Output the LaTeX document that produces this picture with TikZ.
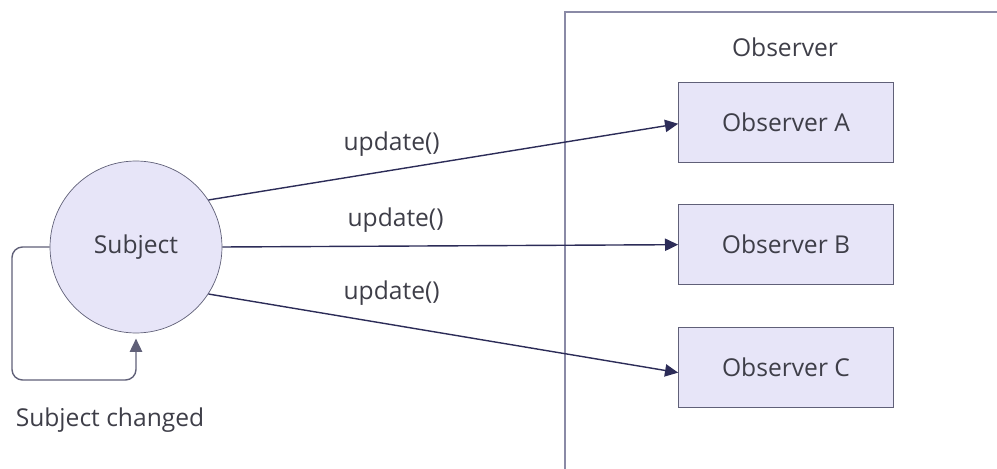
\documentclass[tikz,border=0pt]{standalone}
\usepackage{fontspec}
\setmainfont{Open Sans}
\usepackage{tikz}
\usetikzlibrary{shapes.geometric, arrows.meta, positioning}
\definecolor{obsfill}{HTML}{E7E5F8}
\definecolor{obsline}{HTML}{606078}
\definecolor{framecol}{HTML}{8A8AA6}
\definecolor{arrowcol}{HTML}{2C2C58}
\definecolor{textcol}{HTML}{3E3E48}
\tikzstyle{subject} = [circle, 
minimum size=3.44cm, 
draw=obsline, 
fill=obsfill, 
text=textcol]
\tikzstyle{observer} = [rectangle, 
minimum width=4.3cm, 
minimum height=1.6cm, 
text centered, 
draw=obsline, 
fill=obsfill, 
text=textcol]
\tikzstyle{label} = [text=textcol]
\tikzstyle{arrow} = [draw=arrowcol, line width=0.8pt, 
-{Triangle[length=7.5pt, width=7pt]}]

\begin{document}
\begin{tikzpicture}[x=0.02cm, y=-0.02cm, font=\fontsize{14}{17}\selectfont]
\useasboundingbox (0,0) rectangle (997,469);

% observer frame
\draw[framecol, line width=0.8pt] (565,475) -- (565,12) -- (1005,12);
\node (title) [label] at (785,47) {Observer};

\node (subj) [subject] at (136,247) {Subject};
\node (obsA) [observer] at (786,122) {Observer A};
\node (obsB) [observer, below=0.84cm of obsA] {Observer B};
\node (obsC) [observer, below=0.84cm of obsB] {Observer C};

\draw [arrow] (subj.33) -- node[label, pos=0.39, above=4pt] {update()} ([yshift=-1pt]obsA.west);
\draw [arrow] (subj.east) -- node[label, pos=0.38, above=4pt] {update()} (obsB.west);
\draw [arrow] (subj.-33) -- node[label, pos=0.39, above=7pt] {update()} ([yshift=-3pt]obsC.west);

% self loop
\coordinate (loopend) at ([yshift=-3pt]subj.south);
\draw [arrow, draw=obsline, rounded corners=6pt] (subj.west) -| (12,380) -| (loopend);
\node (changed) [label] at (110,420) {Subject changed};

\end{tikzpicture}
\end{document}
